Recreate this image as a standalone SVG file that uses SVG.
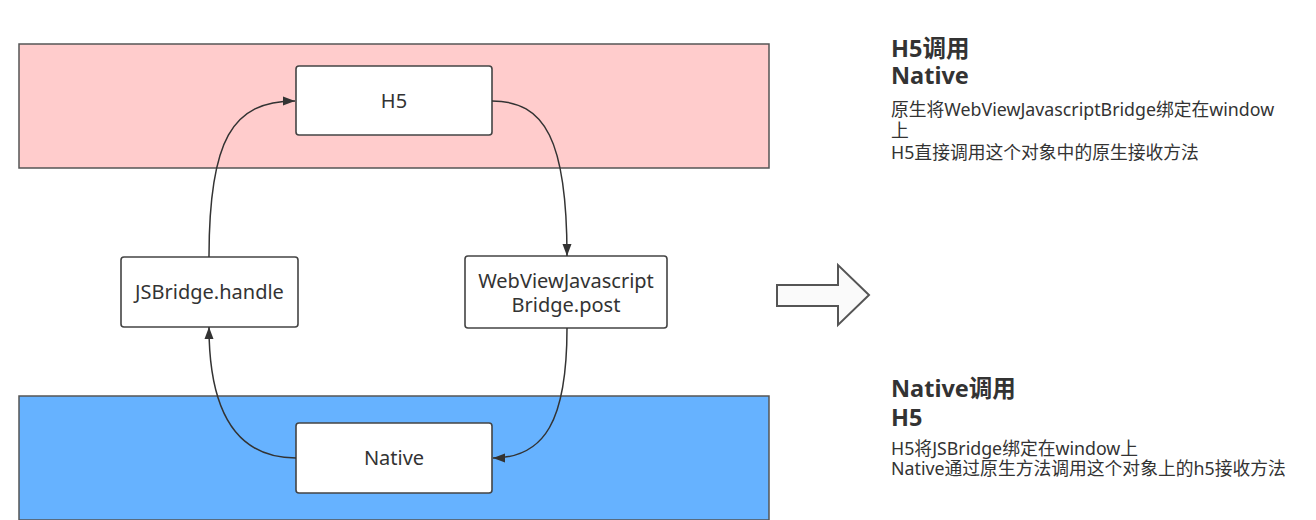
<svg xmlns="http://www.w3.org/2000/svg" width="1316" height="520" viewBox="0 0 1316 520">
  <defs>
    <marker id="arr" markerUnits="userSpaceOnUse" markerWidth="13" markerHeight="10" refX="12" refY="5" orient="auto">
      <path d="M0,0.5 L12,5 L0,9.5 z" fill="#333"/>
    </marker>
    <style>
      .band { stroke: #555; stroke-width: 1.5; }
      .node { fill: #ffffff; stroke: #444; stroke-width: 1.6; }
      .ntext { font-family: "Noto Sans", "Noto Sans CJK SC", sans-serif; font-size: 20px; fill: #333; text-anchor: middle; }
      .conn { fill: none; stroke: #333; stroke-width: 1.5; marker-end: url(#arr); }
      .title { font-family: "Noto Sans", "Noto Sans CJK SC", sans-serif; font-size: 23.5px; font-weight: bold; fill: #333; }
      .body { font-family: "Noto Sans", "Noto Sans CJK SC", sans-serif; font-size: 17.8px; fill: #333; }
    </style>
  </defs>
  <rect width="1316" height="520" fill="#ffffff"/>

  <g id="band-h5">
    <rect class="band" x="19" y="44" width="750" height="124" fill="#ffcccc"/>
  </g>
  <g id="band-native">
    <rect class="band" x="19" y="396" width="750" height="124" fill="#66b2ff"/>
  </g>

  <g id="node-h5">
    <rect class="node" x="296" y="66" width="196" height="69" rx="3"/>
    <text class="ntext" x="394" y="108">H5</text>
  </g>
  <g id="node-jsbridge">
    <rect class="node" x="121" y="257" width="177" height="70" rx="3"/>
    <text class="ntext" x="209.5" y="299">JSBridge.handle</text>
  </g>
  <g id="node-webview">
    <rect class="node" x="465" y="256" width="202" height="72" rx="3"/>
    <text class="ntext" x="566" y="288">WebViewJavascript</text>
    <text class="ntext" x="566" y="312">Bridge.post</text>
  </g>
  <g id="node-native">
    <rect class="node" x="296" y="423" width="196" height="70" rx="3"/>
    <text class="ntext" x="394" y="465">Native</text>
  </g>

  <g id="connectors">
    <path class="conn" d="M209,257 C209,140 232,101 295,101"/>
    <path class="conn" d="M492,101 C545,101 567,140 567,256"/>
    <path class="conn" d="M567,328 C567,420 545,458 493,458"/>
    <path class="conn" d="M296,458 C245,458 209,425 209,327"/>
  </g>

  <g id="big-arrow">
    <polygon points="777,285 838,285 838,265 869,295 838,325 838,306 777,306" fill="#fafafa" stroke="#555" stroke-width="2" stroke-linejoin="miter"/>
  </g>

  <g id="text-top">
    <text class="title" x="891" y="57">H5调用</text>
    <text class="title" x="891" y="84">Native</text>
    <text class="body" x="891" y="116">原生将WebViewJavascriptBridge绑定在window</text>
    <text class="body" x="891" y="137">上</text>
    <text class="body" x="891" y="159">H5直接调用这个对象中的原生接收方法</text>
  </g>
  <g id="text-bottom">
    <text class="title" x="891" y="397">Native调用</text>
    <text class="title" x="891" y="426">H5</text>
    <text class="body" x="891" y="455">H5将JSBridge绑定在window上</text>
    <text class="body" x="891" y="475">Native通过原生方法调用这个对象上的h5接收方法</text>
  </g>
</svg>
